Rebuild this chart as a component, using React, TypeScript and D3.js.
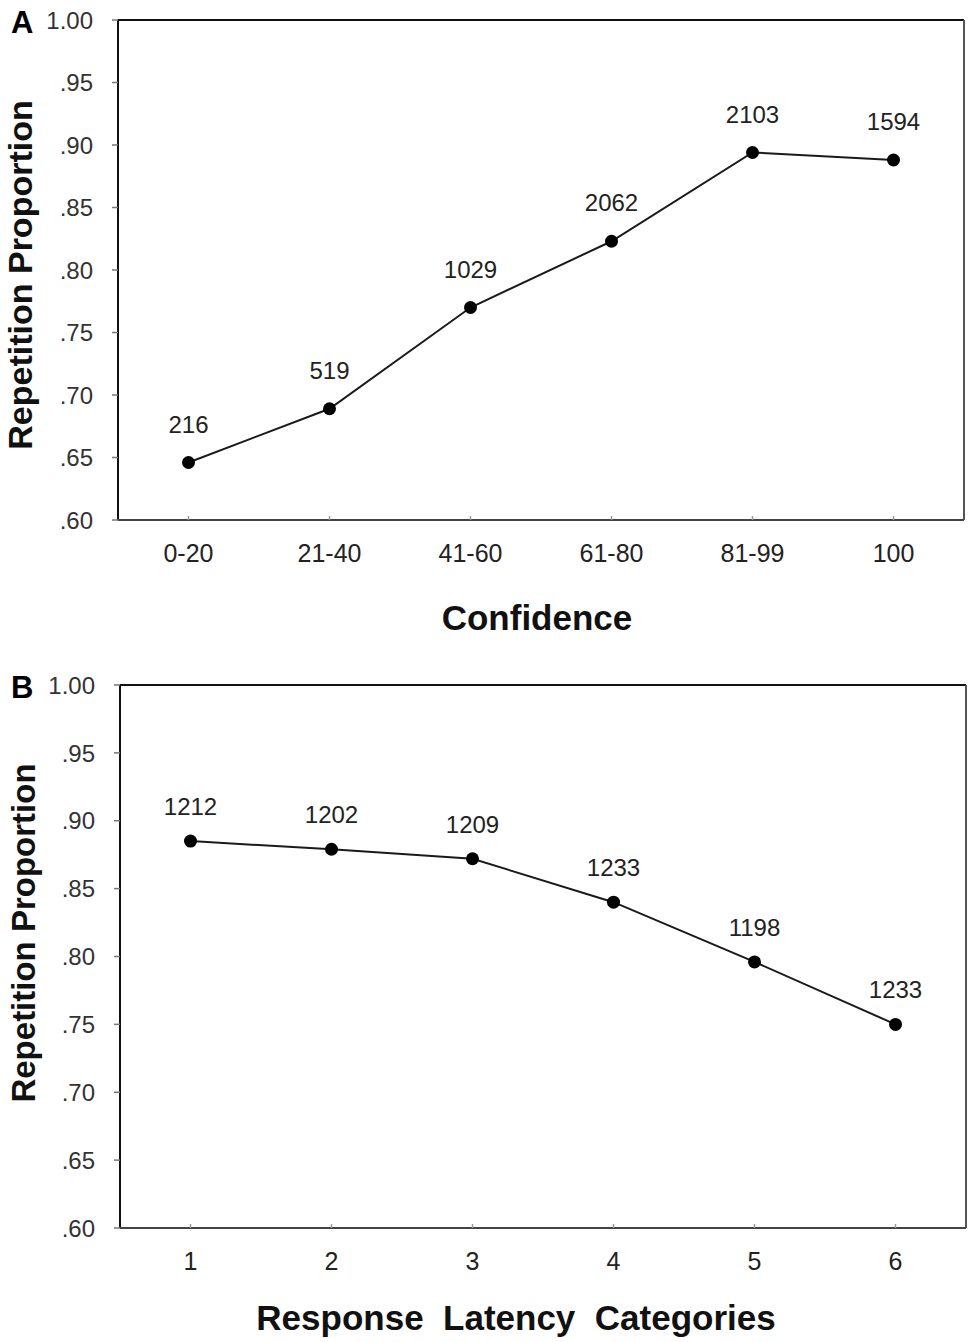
import React from 'react';
import * as d3 from 'd3';

// Panel A: confidence bins
const confidenceLabels = ["0-20", "21-40", "41-60", "61-80", "81-99", "100"];
const confidenceValues = [0.646, 0.689, 0.770, 0.823, 0.894, 0.888];
const confidenceCounts = ["216", "519", "1029", "2062", "2103", "1594"];

// Panel B: response latency categories
const latencyLabels = ["1", "2", "3", "4", "5", "6"];
const latencyValues = [0.885, 0.879, 0.872, 0.840, 0.796, 0.750];
const latencyCounts = ["1212", "1202", "1209", "1233", "1198", "1233"];

const yTicks = [0.60, 0.65, 0.70, 0.75, 0.80, 0.85, 0.90, 0.95, 1.00];

const FONT = "'Liberation Sans', Arial, sans-serif";

const fmtTick = (v: number) => (v === 1 ? "1.00" : d3.format(".2f")(v).replace(/^0/, ""));

interface PanelProps {
  letter: string;
  labels: string[];
  values: number[];
  counts: string[];
  xTitle: string;
  frame: { left: number; top: number; right: number; bottom: number };
  xTitlePos: [number, number];
  yTitlePos: [number, number];
  yTitleSize: number;
  xTitleSize: number;
  labelOffset: number;
}

function Panel(p: PanelProps) {
  const { letter, labels, values, counts, xTitle, frame, labelOffset } = p;

  const x = d3.scalePoint<string>()
    .domain(labels)
    .range([frame.left, frame.right])
    .padding(0.5);

  const y = d3.scaleLinear()
    .domain([0.6, 1.0])
    .range([frame.bottom, frame.top]);

  const line = d3.line<number>()
    .x((_, i) => x(labels[i]) || 0)
    .y(d => y(d));

  return (
    <g>
      {/* panel letter */}
      <text x={11} y={frame.top + 13} fontFamily={FONT} fontWeight="bold" fontSize={31} fill="#000">
        {letter}
      </text>

      {/* frame */}
      <line x1={frame.left} x2={frame.right} y1={frame.top} y2={frame.top} stroke="#111" strokeWidth={2} />
      <line x1={frame.left} x2={frame.left} y1={frame.top} y2={frame.bottom} stroke="#111" strokeWidth={2} />
      <line x1={frame.right} x2={frame.right} y1={frame.top} y2={frame.bottom} stroke="#555" strokeWidth={2} />
      <line x1={frame.left} x2={frame.right} y1={frame.bottom} y2={frame.bottom} stroke="#444" strokeWidth={2} />

      {/* y ticks */}
      {yTicks.map(t => (
        <g key={t}>
          <line x1={frame.left - 6} x2={frame.left} y1={y(t)} y2={y(t)} stroke="#777" strokeWidth={1.5} />
          <text
            x={frame.left - 25}
            y={y(t)}
            dy="0.36em"
            textAnchor="end"
            fontFamily={FONT}
            fontSize={24}
            fill="#333"
          >
            {fmtTick(t)}
          </text>
        </g>
      ))}

      {/* x ticks */}
      {labels.map(l => (
        <g key={l}>
          <line x1={x(l)} x2={x(l)} y1={frame.bottom} y2={frame.bottom - 4} stroke="#999" strokeWidth={1.5} />
          <text
            x={x(l)}
            y={frame.bottom + 33}
            dy="0.36em"
            textAnchor="middle"
            fontFamily={FONT}
            fontSize={25}
            fill="#222"
          >
            {l}
          </text>
        </g>
      ))}

      {/* series */}
      <path d={line(values) || ""} fill="none" stroke="#1a1a1a" strokeWidth={2} />
      {values.map((v, i) => (
        <circle key={i} cx={x(labels[i])} cy={y(v)} r={6.5} fill="#000" />
      ))}
      {values.map((v, i) => (
        <text
          key={"c" + i}
          x={x(labels[i])}
          y={y(v) - labelOffset}
          textAnchor="middle"
          fontFamily={FONT}
          fontSize={24}
          fill="#222"
        >
          {counts[i]}
        </text>
      ))}

      {/* axis titles */}
      <text
        x={p.xTitlePos[0]}
        y={p.xTitlePos[1]}
        textAnchor="middle"
        fontFamily={FONT}
        fontWeight="bold"
        fontSize={p.xTitleSize}
        fill="#111"
        style={{ whiteSpace: "pre" }}
      >
        {xTitle}
      </text>
      <text
        transform={`translate(${p.yTitlePos[0]},${p.yTitlePos[1]}) rotate(-90)`}
        textAnchor="middle"
        fontFamily={FONT}
        fontWeight="bold"
        fontSize={p.yTitleSize}
        fill="#111"
      >
        Repetition Proportion
      </text>
    </g>
  );
}

export default function App() {
  const width = 975;
  const height = 1342;
  return (
    <svg
      width={width}
      height={height}
      style={{ position: "absolute", left: 0, top: 0, background: "#fff", display: "block" }}
    >
      <rect width={width} height={height} fill="#fff" />
      <Panel
        letter="A"
        labels={confidenceLabels}
        values={confidenceValues}
        counts={confidenceCounts}
        xTitle="Confidence"
        frame={{ left: 118, top: 20, right: 964, bottom: 520 }}
        xTitlePos={[537, 630]}
        yTitlePos={[32, 275]}
        yTitleSize={34}
        xTitleSize={35}
        labelOffset={30}
      />
      <Panel
        letter="B"
        labels={latencyLabels}
        values={latencyValues}
        counts={latencyCounts}
        xTitle={"Response  Latency  Categories"}
        frame={{ left: 120, top: 685, right: 966, bottom: 1228 }}
        xTitlePos={[516, 1330]}
        yTitlePos={[35, 933]}
        yTitleSize={33}
        xTitleSize={35}
        labelOffset={26}
      />
    </svg>
  );
}
